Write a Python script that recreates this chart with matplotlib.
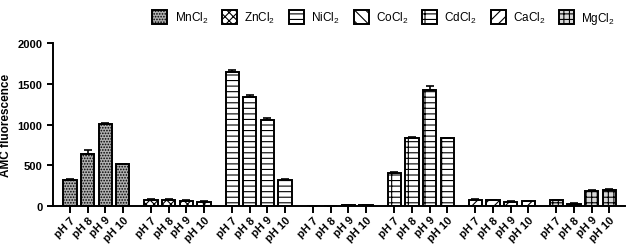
import numpy as np
import matplotlib.pyplot as plt

plt.rcParams['font.family'] = ['Liberation Sans', 'DejaVu Sans']
plt.rcParams['mathtext.default'] = 'regular'
plt.rcParams['hatch.linewidth'] = 0.8

# data
salts = ['MnCl$_2$', 'ZnCl$_2$', 'NiCl$_2$', 'CoCl$_2$', 'CdCl$_2$', 'CaCl$_2$', 'MgCl$_2$']
ph_labels = ['pH 7', 'pH 8', 'pH 9', 'pH 10']
values = [
    [320, 640, 1010, 510],
    [80, 80, 65, 55],
    [1640, 1340, 1060, 320],
    [5, 5, 15, 10],
    [410, 840, 1420, 830],
    [80, 75, 55, 60],
    [70, 30, 190, 200],
]
errors = [
    [8, 45, 12, 8],
    [5, 5, 5, 5],
    [22, 18, 22, 8],
    [2, 2, 3, 2],
    [10, 10, 50, 10],
    [5, 5, 5, 5],
    [5, 3, 8, 8],
]

hatches = ['......', 'xxxx', '---', '\\\\\\', '--+', '///', '+++']
faces = ['#b0b0b0', 'white', 'white', 'white', 'white', 'white', '#d8d8d8']

fig = plt.figure(figsize=(6.29, 2.51), dpi=100)
ax = fig.add_axes([0.084, 0.175, 0.91, 0.65])

group_step = 4.6
xticks = []
xticklabels = []
handles = []
for g, salt in enumerate(salts):
    x = g * group_step + np.arange(4)
    b = ax.bar(x, values[g], width=0.75, color=faces[g], edgecolor='black',
               linewidth=1.4, hatch=hatches[g], label=salt, zorder=2)
    ax.errorbar(x, values[g], yerr=[np.zeros(4), errors[g]], fmt='none',
                ecolor='black', elinewidth=1.2, capsize=3, capthick=1.2, zorder=3)
    handles.append(b)
    xticks.extend(x)
    xticklabels.extend(ph_labels)

ax.set_xlim(-0.97, 6 * group_step + 3 + 0.9)
ax.set_ylim(0, 2000)
ax.set_yticks([0, 500, 1000, 1500, 2000])
ax.set_xticks(xticks)
ax.set_xticklabels(xticklabels, rotation=45, ha='right', rotation_mode='anchor',
                   fontsize=8, fontweight='bold')
for lab in ax.get_yticklabels():
    lab.set_fontsize(8)
    lab.set_fontweight('bold')
ax.set_ylabel('AMC fluorescence', fontsize=8.5, fontweight='bold')
ax.spines[['right', 'top']].set_visible(False)
ax.spines['left'].set_linewidth(1.4)
ax.spines['bottom'].set_linewidth(1.4)
ax.tick_params(axis='both', width=1.4, length=4, direction='out')
ax.tick_params(axis='x', length=5, pad=1)

fig.legend(handles, salts, loc='upper right', bbox_to_anchor=(0.995, 1.0), ncol=7,
           frameon=False, fontsize=8.5, handlelength=1.3, handleheight=1.4,
           columnspacing=1.15, handletextpad=0.6)

fig.savefig('out.png', dpi=100)
